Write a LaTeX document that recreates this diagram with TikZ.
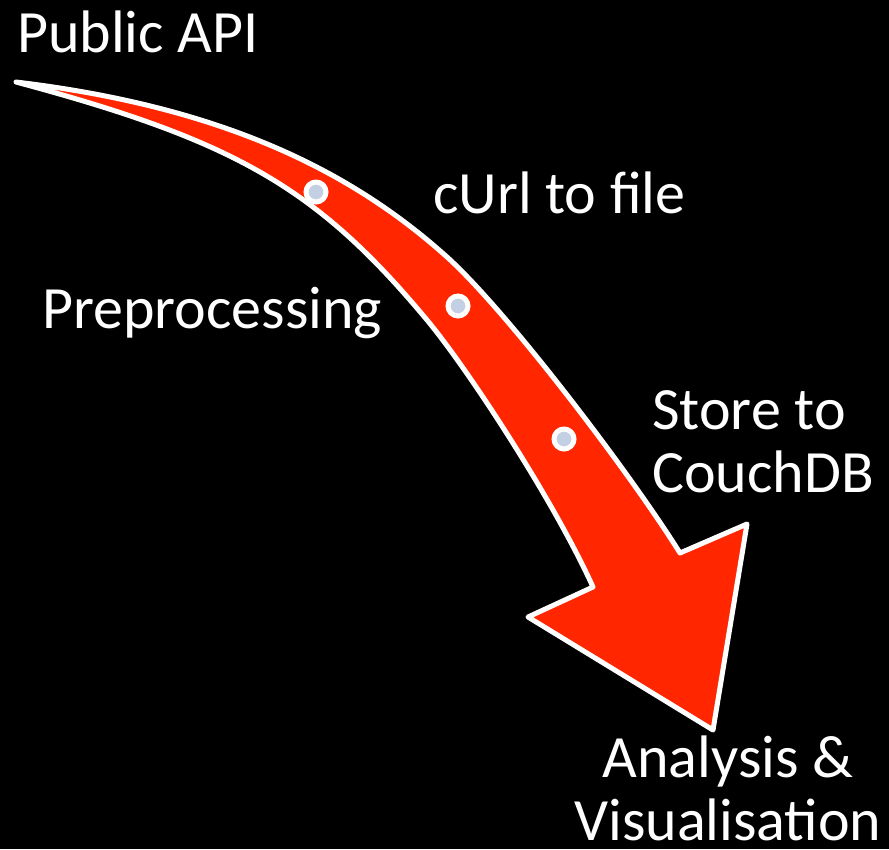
\documentclass[tikz,border=0pt]{standalone}
\usepackage{fontspec}
\setmainfont{Carlito}
\definecolor{arrowred}{RGB}{255,38,0}
\definecolor{dotgrey}{RGB}{195,207,226}
\newcommand{\mkstop}[2]{\node[stopdot] (#1) at #2 {} ;}
\tikzset{
    stopdot/.style={
        circle,
        draw=white,
        line width=5pt,
        fill=dotgrey,
        inner sep=0,
        minimum size=20pt,
    },
    caption/.style={
        text=white,
        inner sep=0,
        anchor=base west,
        align=left,
        font=\fontsize{60}{63}\selectfont,
    },
    bigarrow/.style={
        fill=arrowred,
        draw=white,
        line width=5pt,
        line join=round,
    },
}
\begin{document}
\begin{tikzpicture}[x=1pt,y=-1pt]
    \fill[black] (0,0) rectangle (889,849);
    \useasboundingbox (0,0) rectangle (889,849);

    % the curved arrow
    \path[bigarrow] (16,82)
        .. controls (216,106) and (347,167) .. (447,257)
        .. controls (507,311) and (630,473) .. (680,553)
        -- (747,524) -- (713,730) -- (528,617) -- (593,587)
        .. controls (553,499) and (467,368) .. (427,320)
        .. controls (317,188) and (236,141) .. (16,82)
        -- cycle;

    % stops along the way
    \mkstop{s1}{(316,192)}
    \mkstop{s2}{(458,306)}
    \mkstop{s3}{(564,439)}

    \node[caption] (api) at (17,52) {Public API};
    \node[caption] (curl) at (433,213) {cUrl to file};
    \node[caption] (prep) at (42,328) {Preprocessing};
    \node[caption] (store) at (652,492) {Store to\\CouchDB};
    \node[caption, anchor=base, align=center] (analysis) at (728,840) {Analysis \&\\Visualisation};
\end{tikzpicture}
\end{document}
